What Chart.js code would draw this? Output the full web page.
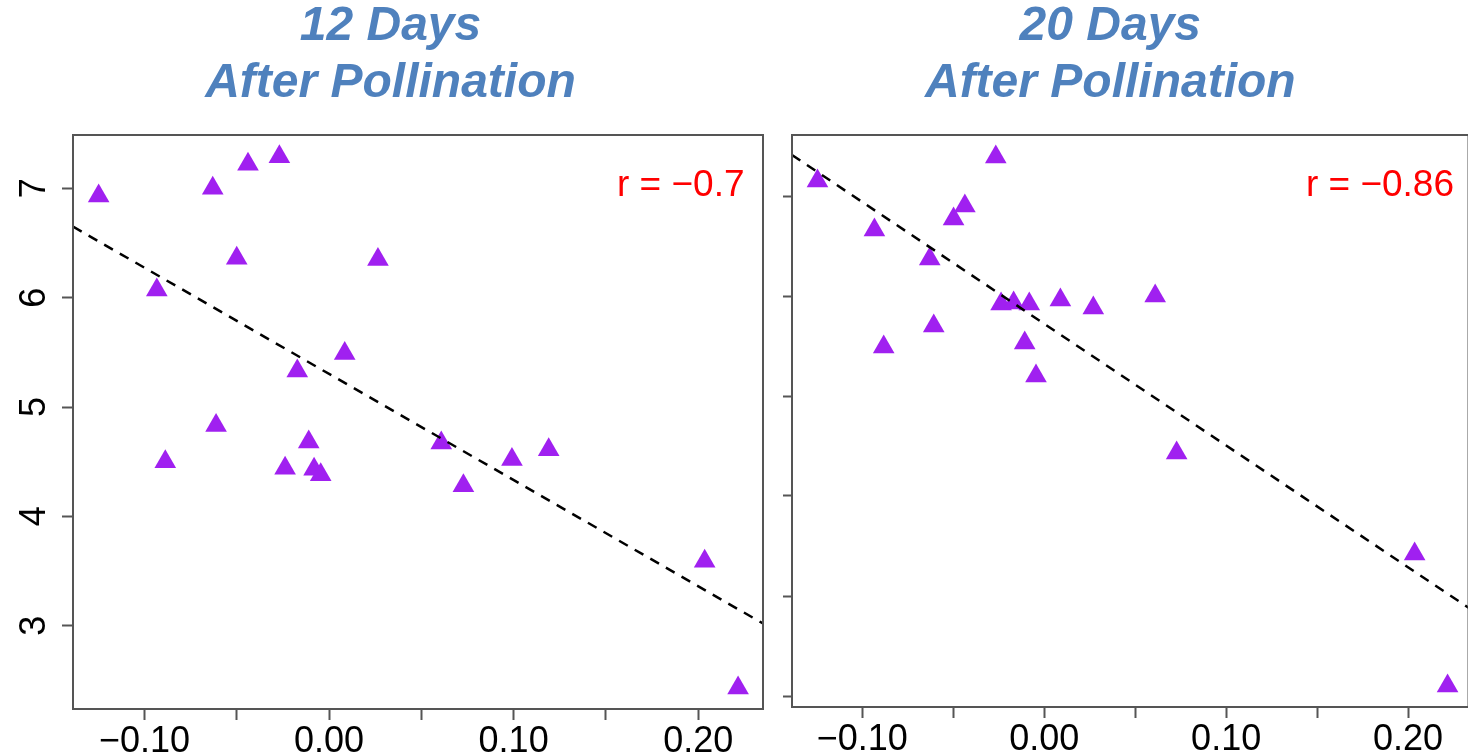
<!DOCTYPE html>
<html>
<head>
<meta charset="utf-8">
<script src="https://cdn.jsdelivr.net/npm/chart.js@4"></script>
<style>
    html, body { margin: 0; padding: 0; background: #fff; overflow: hidden; width: 1468px; height: 756px; }
    .panel { position: absolute; top: 0; height: 780px; }
    .panel canvas { display: block; }
</style>
</head>
<body>
<div class="panel" style="left:0px; width:781px"><canvas id="chart12" width="781" height="780" style="width:781px; height:780px"></canvas></div>
<div class="panel" style="left:741px; width:740px"><canvas id="chart20" width="740" height="780" style="width:740px; height:780px"></canvas></div>
<script>
// shared x axis ticks
const xTicks = [-0.10, -0.05, 0.00, 0.05, 0.10, 0.15, 0.20];
const xTickLabels = ['\u22120.10', '', '0.00', '', '0.10', '', '0.20'];

// 12 days after pollination
const day12X = [-0.1248, -0.0933, -0.0887, -0.0630, -0.0612, -0.0500, -0.0439, -0.0269, -0.0238, -0.0172, -0.0110,
    -0.0081, -0.0045, 0.0085, 0.0265, 0.0608, 0.0728, 0.0991, 0.1190, 0.2035, 0.2216];
const day12Y = [6.93, 6.07, 4.50, 7.00, 4.83, 6.36, 7.22, 7.29, 4.44, 5.33, 4.68,
    4.43, 4.38, 5.49, 6.35, 4.67, 4.28, 4.52, 4.61, 3.59, 2.43];
const fit12X = [-0.1387, 0.2351];
const fit12Y = [6.65, 3.02];
const yTicks12 = [3, 4, 5, 6, 7];
const yTickLabels12 = ['3', '4', '5', '6', '7'];

// 20 days after pollination
const day20X = [-0.1246, -0.0933, -0.0882, -0.0629, -0.0607, -0.0498, -0.0436, -0.0266, -0.0237, -0.0168,
    -0.0107, -0.0082, -0.0045, 0.0089, 0.0270, 0.0610, 0.0728, 0.2036, 0.2217];
const day20Y = [7.15, 6.66, 5.49, 6.37, 5.70, 6.77, 6.90, 7.39, 5.92, 5.93,
    5.53, 5.92, 5.20, 5.96, 5.88, 6.00, 4.43, 3.42, 2.10];
const fit20X = [-0.1386, 0.2351];
const fit20Y = [7.41, 2.86];
const yTicks20 = [2, 3, 4, 5, 6, 7];
const yTickLabels20 = ['', '', '', '', '', ''];

const FONT = '"Liberation Sans", Arial, sans-serif';
const AXIS = '#555555';

function toPoints(xs, ys) {
    return xs.map((x, i) => ({ x: x, y: ys[i] }));
}

// box around the plot, rotated y labels and the r note
const framePlugin = {
    id: 'frame',
    afterDraw(chart, args, opts) {
        const ctx = chart.ctx;
        const a = chart.chartArea;
        ctx.save();
        ctx.strokeStyle = AXIS;
        ctx.lineWidth = 2;
        ctx.strokeRect(a.left, a.top, a.right - a.left, a.bottom - a.top);

        const yScale = chart.scales.y;
        ctx.fillStyle = '#000';
        ctx.font = '36px ' + FONT;
        ctx.textAlign = 'center';
        ctx.textBaseline = 'alphabetic';
        opts.yTicks.forEach((v, i) => {
            if (!opts.yLabels[i]) return;
            ctx.save();
            ctx.translate(a.left - 28, yScale.getPixelForValue(v));
            ctx.rotate(-Math.PI / 2);
            ctx.fillText(opts.yLabels[i], 0, 0);
            ctx.restore();
        });

        ctx.fillStyle = '#ff0000';
        ctx.font = '37px ' + FONT;
        ctx.textAlign = 'right';
        ctx.fillText(opts.note, a.right - opts.noteInset, a.top + 61);
        ctx.restore();
    }
};

function makeChart(id, cfg) {
    return new Chart(document.getElementById(id), {
        type: 'scatter',
        data: {
            datasets: [
                {
                    type: 'line',
                    data: toPoints(cfg.fitX, cfg.fitY),
                    borderColor: '#000',
                    borderWidth: 2.5,
                    borderDash: [10, 8],
                    pointRadius: 0,
                    fill: false
                },
                {
                    data: toPoints(cfg.xs, cfg.ys),
                    pointStyle: 'triangle',
                    pointRadius: 12.5,
                    pointBackgroundColor: '#a020f0',
                    pointBorderWidth: 0,
                    showLine: false
                }
            ]
        },
        options: {
            responsive: false,
            animation: false,
            events: [],
            layout: { padding: { left: cfg.padLeft, right: cfg.padRight, top: 0, bottom: 0 } },
            plugins: {
                legend: { display: false },
                tooltip: { enabled: false },
                title: {
                    display: true,
                    text: cfg.title,
                    color: '#4f81bd',
                    font: { family: FONT, size: 48, weight: 'bold', style: 'italic', lineHeight: 1.1875 },
                    padding: { top: -2, bottom: 23 }
                },
                frame: { yTicks: cfg.yTicks, yLabels: cfg.yLabels, note: cfg.note, noteInset: cfg.noteInset }
            },
            scales: {
                x: {
                    type: 'linear',
                    min: cfg.xMin,
                    max: cfg.xMax,
                    afterBuildTicks: axis => { axis.ticks = xTicks.map(v => ({ value: v })); },
                    afterFit: axis => {
                        axis.height = cfg.xHeight;
                        axis.paddingLeft = 0;
                        axis.paddingRight = 0;
                    },
                    grid: { drawOnChartArea: false, drawTicks: true, tickLength: 11, tickWidth: 2, tickColor: AXIS },
                    border: { display: true, color: AXIS, width: 2 },
                    ticks: {
                        autoSkip: false,
                        maxRotation: 0,
                        padding: 0,
                        color: '#000',
                        font: { family: FONT, size: 36 },
                        callback: (v, i) => xTickLabels[i]
                    }
                },
                y: {
                    type: 'linear',
                    min: cfg.yMin,
                    max: cfg.yMax,
                    afterBuildTicks: axis => { axis.ticks = cfg.yTicks.map(v => ({ value: v })); },
                    afterFit: axis => {
                        axis.width = cfg.yWidth;
                        axis.paddingTop = 0;
                        axis.paddingBottom = 0;
                    },
                    grid: { drawOnChartArea: false, drawTicks: true, tickLength: cfg.yTickLen, tickWidth: 2, tickColor: AXIS },
                    border: { display: true, color: AXIS, width: 2 },
                    ticks: { display: false }
                }
            }
        },
        plugins: [framePlugin]
    });
}

makeChart('chart12', {
    title: ['12 Days', 'After Pollination'],
    xs: day12X, ys: day12Y, fitX: fit12X, fitY: fit12Y,
    xMin: -0.1387, xMax: 0.2351, yMin: 2.238, yMax: 7.488,
    yTicks: yTicks12, yLabels: yTickLabels12, note: 'r = \u22120.7', noteInset: 18.5,
    padLeft: 18, yWidth: 55, yTickLen: 11, xHeight: 71, padRight: 18
});

makeChart('chart20', {
    title: ['20 Days', 'After Pollination'],
    xs: day20X, ys: day20Y, fitX: fit20X, fitY: fit20Y,
    xMin: -0.1386, xMax: 0.2332, yMin: 1.89, yMax: 7.61,
    yTicks: yTicks20, yLabels: yTickLabels20, note: 'r = \u22120.86', noteInset: 14.5,
    padLeft: 0, yWidth: 51, yTickLen: 9, xHeight: 73, padRight: 1.4
});
</script>
</body>
</html>
